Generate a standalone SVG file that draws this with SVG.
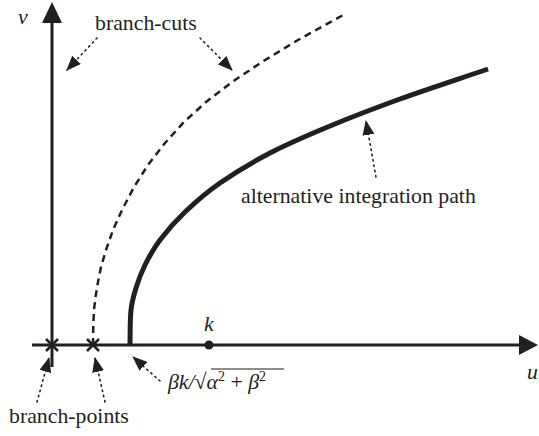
<svg xmlns="http://www.w3.org/2000/svg" width="539" height="436" viewBox="0 0 539 436">
<style>
.lbl{font-family:"Liberation Serif","Times New Roman",serif;font-size:21.8px;fill:#231f20}
.it{font-style:italic}
.axis{stroke:#231f20;stroke-width:3;fill:none}
.cross{stroke:#231f20;stroke-width:2.5}
.dot{stroke:#231f20;stroke-width:1.6;stroke-dasharray:1.4 4;fill:none;stroke-linecap:round}
</style>
<defs>
<marker id="ah" viewBox="0 0 15 12" refX="14" refY="6" markerWidth="15" markerHeight="12" markerUnits="userSpaceOnUse" orient="auto">
<path d="M0,0 L15,6 L0,12 Z" fill="#231f20"/>
</marker>
</defs>
<rect width="539" height="436" fill="#fff"/>
<g id="axes">
<line class="axis" x1="52" y1="367" x2="52" y2="20"/>
<polygon points="52,2 42,23 62,23" fill="#231f20"/>
<line class="axis" x1="32" y1="345" x2="520" y2="345"/>
<polygon points="538,345 519,335 519,355" fill="#231f20"/>
<text class="lbl it" x="18" y="24">v</text>
<text class="lbl it" x="527" y="379">u</text>
</g>
<g id="branch-point-1">
<line class="cross" x1="46" y1="339" x2="58" y2="351"/>
<line class="cross" x1="46" y1="351" x2="58" y2="339"/>
</g>
<g id="branch-cut-2">
<polyline points="93,345 93.3,325 94,310 95.5,297 98,282 101,267 106,250 113,230 122,210 134,187 148,165 165,143 184,122 206,102 232,82 262,62 298,40 345,14" fill="none" stroke="#231f20" stroke-width="2.5" stroke-dasharray="7 5" stroke-linejoin="round"/>
</g>
<g id="branch-point-2">
<line class="cross" x1="87" y1="339" x2="99" y2="351"/>
<line class="cross" x1="87" y1="351" x2="99" y2="339"/>
</g>
<g id="integration-path">
<path d="M130,345 C130.2,333.3 130,319.5 131,310 C132,300.5 133.7,295.5 136,288 C138.3,280.5 141,273 145,265 C149,257 153.3,248.8 160,240 C166.7,231.2 175,221.5 185,212 C195,202.5 205.8,192.8 220,183 C234.2,173.2 251.7,162.5 270,153 C288.3,143.5 308.3,135 330,126 C351.7,117 373.7,108.5 400,99 C426.3,89.5 458.7,79 488,69" fill="none" stroke="#231f20" stroke-width="5"/>
</g>
<g id="k-point">
<circle cx="209" cy="345" r="4.5" fill="#231f20"/>
<text class="lbl it" x="204" y="331">k</text>
</g>
<g id="label-branch-cuts">
<text class="lbl" x="95" y="30">branch-cuts</text>
</g>
<g id="label-alt-path">
<text class="lbl" x="241" y="203">alternative integration path</text>
</g>
<g id="label-branch-points">
<text class="lbl" x="9" y="423">branch-points</text>
</g>
<g id="label-formula">
<text class="lbl" x="168" y="389" font-size="21"><tspan class="it">βk/</tspan><tspan>√</tspan><tspan class="it">α</tspan><tspan font-size="14" dy="-8">2</tspan><tspan dy="8"> + </tspan><tspan class="it">β</tspan><tspan font-size="14" dy="-8">2</tspan></text>
<line x1="211" y1="369" x2="284" y2="369" stroke="#231f20" stroke-width="1.2"/>
</g>
<g id="connectors">
<line class="dot" x1="97" y1="38" x2="67" y2="70" marker-end="url(#ah)"/>
<line class="dot" x1="200" y1="38" x2="232" y2="70" marker-end="url(#ah)"/>
<line class="dot" x1="376" y1="177" x2="366" y2="121" marker-end="url(#ah)"/>
<line class="dot" x1="37" y1="402" x2="49" y2="358" marker-end="url(#ah)"/>
<line class="dot" x1="105" y1="402" x2="95" y2="358" marker-end="url(#ah)"/>
<line class="dot" x1="160" y1="381" x2="133" y2="357" marker-end="url(#ah)"/>
</g>
</svg>
